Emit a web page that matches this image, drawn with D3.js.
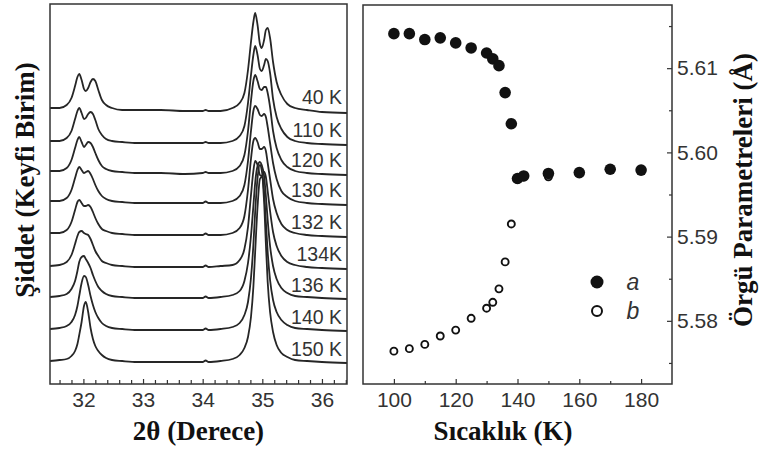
<!DOCTYPE html>
<html lang="tr">
<head>
<meta charset="utf-8">
<script src="https://d3js.org/d3.v7.min.js"></script>
<style>
    body { margin: 0; background: #fff; }
    .tick text { font-family: "Liberation Sans", Arial, sans-serif; font-size: 21px; fill: #333; }
    .tick line { stroke: #333; stroke-width: 1.2; }
    .title { font-family: "Liberation Serif", "Times New Roman", serif; font-weight: bold; font-size: 27px; fill: #111; }
    .lbl { font-family: "Liberation Sans", Arial, sans-serif; font-size: 19.5px; fill: #333; }
</style>
</head>
<body>
<div id="chart"></div>
<script>
// ---- left panel data: XRD scans, 2-theta grid shared by all scans
var twoTheta = [31.44, 31.6, 31.72, 31.8, 31.86, 31.9, 31.93, 31.97, 32.01, 32.04, 32.08, 32.12,
    32.16, 32.2, 32.25, 32.31, 32.38, 32.48, 32.65, 32.9, 33.3, 33.7, 34.0, 34.05, 34.1, 34.3,
    34.5, 34.62, 34.7, 34.76, 34.81, 34.85, 34.88, 34.92, 34.96, 34.99, 35.03, 35.06, 35.09,
    35.13, 35.18, 35.24, 35.32, 35.42, 35.55, 35.75, 36.0, 36.42];

var scanLabels = ["40 K", "110 K", "120 K", "130 K", "132 K", "134K", "136 K", "140 K", "150 K"];
// vertical offset of each scan (arbitrary units)
var scanOffsets = [274, 241, 211, 181, 149, 117, 86, 54, 22];

// intensity above the offset, one value per twoTheta point
var scan40 = [2,2,5,12,24,33,36,30,21,19,22,28,31,29,20,10,5,2,0,0,0,-1,-1,0,-1,-1,2,7,17,40,68,88,97,85,66,62,70,80,82,72,48,28,15,6,2,0,-2,-3];
var scan110 = [2,2,5,12,24,32,35,30,24,25,29,31,29,23,14,8,4,2,1,0,0,0,0,1,0,0,2,7,17,40,68,88,97,88,74,72,78,84,82,70,44,26,14,6,2,0,-1,-2];
var scan120 = [2,2,5,13,25,33,36,31,26,28,31,30,26,20,13,7,4,2,1,0,0,-1,0,1,0,0,2,7,18,42,72,92,98,92,84,83,86,86,80,66,42,25,13,6,2,0,-1,-2];
var scan130 = [2,2,5,13,25,33,36,33,30,31,32,29,24,18,12,7,4,2,1,0,0,0,0,1.5,0,0,2,7,18,42,72,92,97,94,88,87,89,86,76,60,40,24,12,6,2,0,-1,-2];
var scan132 = [2,2,5,13,25,33,35,32,29,29,30,28,23,17,11,6,4,2,1,0,0,0,0,1.5,0,0,2,7,19,45,76,94,97,93,86,86,88,84,72,56,36,22,11,5,2,0,-1,-2];
var scan134 = [1,2,5,12,23,31,35,36,34,33,32,28,22,16,11,6,4,2,1,0,0,0,0,1.5,0,1,2,7,18,40,72,96,106,102,92,91,95,90,76,56,35,21,11,5,2,0,-1,-2];
var scan136 = [1,2,4,9,17,27,36,41,42,39,35,30,23,17,11,7,4,2,1,0,0,0,0,1.5,0,1,3,7,17,35,62,92,115,132,136,133,122,102,78,52,32,19,10,5,2,1,0,-1];
var scan140 = [1,2,4,8,15,24,34,47,54,53,45,34,25,18,12,7,4,2,1,0,0,0,0,1.5,0,1,3,7,15,28,52,85,118,152,165,160,138,108,78,50,30,18,10,5,2,1,0,-1];
var scan150 = [1,2,3,6,11,18,27,40,56,60,50,34,23,16,11,7,4,2,1,0,0,0,0,1.5,0,1,3,7,14,25,45,75,110,155,183,185,160,118,80,50,30,17,9,5,2,1,0,-1];
var scans = [scan40, scan110, scan120, scan130, scan132, scan134, scan136, scan140, scan150];

var xTicksLeft = [32, 33, 34, 35, 36];

// ---- right panel data: lattice parameters
var tempA = [100, 105, 110, 115, 120, 125, 130, 132, 134, 136, 138, 140, 142, 150, 160, 170, 180];
var latticeA = [5.6141, 5.6141, 5.6134, 5.6136, 5.6130, 5.6124, 5.6118, 5.6111, 5.6103, 5.6071,
    5.6034, 5.5969, 5.5972, 5.5975, 5.5976, 5.5980, 5.5979];
var tempB = [100, 105, 110, 115, 120, 125, 130, 132, 134, 136, 138, 140, 142, 150];
var latticeB = [5.5764, 5.5767, 5.5772, 5.5782, 5.5789, 5.5803, 5.5815, 5.5822, 5.5838, 5.5870,
    5.5915, 5.5968, 5.5971, 5.5971];

var xTicksRight = [100, 120, 140, 160, 180];
var xMinorRight = [110, 130, 150, 170];
var yTicksRight = [5.58, 5.59, 5.60, 5.61];
var yMinorRight = [5.575, 5.585, 5.595, 5.605, 5.615];
var legendKeys = ["a", "b"];

var svg = d3.select("#chart")
    .append("svg")
        .attr("width", 761)
        .attr("height", 453);

// ================= left panel =================
var L = {left: 50, right: 347, top: 4, bottom: 384};

var x1 = d3.scaleLinear().domain([31.44, 36.42]).range([L.left, L.right]);
var y1 = d3.scaleLinear().domain([0, 380]).range([L.bottom, L.top]);

scans.forEach(function(scan, k) {
    var off = scanOffsets[k];
    var line = d3.line()
        .x(function(d, i) { return x1(twoTheta[i]); })
        .y(function(d) { return y1(off + d); })
        .curve(d3.curveMonotoneX);

    svg.append("path")
        .datum(scan)
        .attr("d", line)
        .attr("fill", "none")
        .attr("stroke", "#262626")
        .attr("stroke-width", 1.8)
        .attr("stroke-linejoin", "round");

    svg.append("text")
        .attr("class", "lbl")
        .attr("x", L.right - 5)
        .attr("y", y1(off + 13))
        .attr("dy", "0.35em")
        .attr("text-anchor", "end")
        .text(scanLabels[k]);
});

// minor ticks every 0.2 deg
var minorLeft = d3.range(31.6, 36.41, 0.2).filter(function(v) {
    return Math.abs(v - Math.round(v)) > 0.05;
});

svg.append("g")
    .attr("transform", "translate(0," + L.bottom + ")")
    .call(d3.axisBottom(x1).tickValues(minorLeft).tickSize(-4).tickFormat(""))
    .select(".domain").remove();

svg.append("g")
    .attr("transform", "translate(0," + L.bottom + ")")
    .call(d3.axisBottom(x1).tickValues(xTicksLeft).tickSize(-5).tickPadding(8).tickFormat(d3.format("d")))
    .select(".domain").remove();

svg.append("rect")
    .attr("x", L.left).attr("y", L.top)
    .attr("width", L.right - L.left).attr("height", L.bottom - L.top)
    .attr("fill", "none").attr("stroke", "#333").attr("stroke-width", 1.5);

svg.append("text")
    .attr("class", "title")
    .attr("x", (L.left + L.right) / 2)
    .attr("y", 440)
    .attr("text-anchor", "middle")
    .text("2θ (Derece)");

svg.append("text")
    .attr("class", "title")
    .attr("transform", "translate(25," + 180 + ") rotate(-90)")
    .attr("dy", "0.35em")
    .attr("text-anchor", "middle")
    .text("Şiddet (Keyfi Birim)");

// ================= right panel =================
var R = {left: 363, right: 672, top: 5, bottom: 384};

var x2 = d3.scaleLinear().domain([90, 190]).range([R.left, R.right]);
var y2 = d3.scaleLinear().domain([5.5725, 5.6175]).range([R.bottom, R.top]);

svg.append("g")
    .attr("transform", "translate(0," + R.bottom + ")")
    .call(d3.axisBottom(x2).tickValues(xMinorRight).tickSize(-3).tickFormat(""))
    .select(".domain").remove();

svg.append("g")
    .attr("transform", "translate(0," + R.bottom + ")")
    .call(d3.axisBottom(x2).tickValues(xTicksRight).tickSize(-5).tickPadding(8).tickFormat(d3.format("d")))
    .select(".domain").remove();

svg.append("g")
    .attr("transform", "translate(" + R.right + ",0)")
    .call(d3.axisRight(y2).tickValues(yMinorRight).tickSize(-3).tickFormat(""))
    .select(".domain").remove();

svg.append("g")
    .attr("transform", "translate(" + R.right + ",0)")
    .call(d3.axisRight(y2).tickValues(yTicksRight).tickSize(-5).tickPadding(5).tickFormat(d3.format(".2f")))
    .select(".domain").remove();

// b (open) first so a (filled) sits on top
svg.append("g")
    .selectAll("circle")
    .data(tempB)
    .enter()
    .append("circle")
        .attr("cx", function(d) { return x2(d); })
        .attr("cy", function(d, i) { return y2(latticeB[i]); })
        .attr("r", 3.5)
        .attr("fill", "#fff")
        .attr("stroke", "#111")
        .attr("stroke-width", 1.9);

svg.append("g")
    .selectAll("circle")
    .data(tempA)
    .enter()
    .append("circle")
        .attr("cx", function(d) { return x2(d); })
        .attr("cy", function(d, i) { return y2(latticeA[i]); })
        .attr("r", 5.8)
        .attr("fill", "#111");

svg.append("rect")
    .attr("x", R.left).attr("y", R.top)
    .attr("width", R.right - R.left).attr("height", R.bottom - R.top)
    .attr("fill", "none").attr("stroke", "#333").attr("stroke-width", 1.5);

// legend
var legend = svg.append("g").attr("transform", "translate(597,282)");
legendKeys.forEach(function(k, i) {
    var g = legend.append("g").attr("transform", "translate(0," + (i * 29) + ")");
    if (i === 0) {
        g.append("circle").attr("r", 6.5).attr("fill", "#111");
    } else {
        g.append("circle").attr("r", 5).attr("fill", "#fff")
            .attr("stroke", "#111").attr("stroke-width", 2);
    }
    g.append("text")
        .attr("x", 36)
        .attr("dy", "0.35em")
        .attr("text-anchor", "middle")
        .style("font-family", "'Liberation Sans', Arial, sans-serif")
        .style("font-style", "italic")
        .style("font-size", "23px")
        .style("fill", "#333")
        .text(k);
});

svg.append("text")
    .attr("class", "title")
    .attr("x", 503)
    .attr("y", 440)
    .attr("text-anchor", "middle")
    .text("Sıcaklık (K)");

svg.append("text")
    .attr("class", "title")
    .attr("transform", "translate(743," + 190 + ") rotate(-90)")
    .attr("dy", "0.35em")
    .attr("text-anchor", "middle")
    .text("Örgü Parametreleri (Å)");
</script>
</body>
</html>
